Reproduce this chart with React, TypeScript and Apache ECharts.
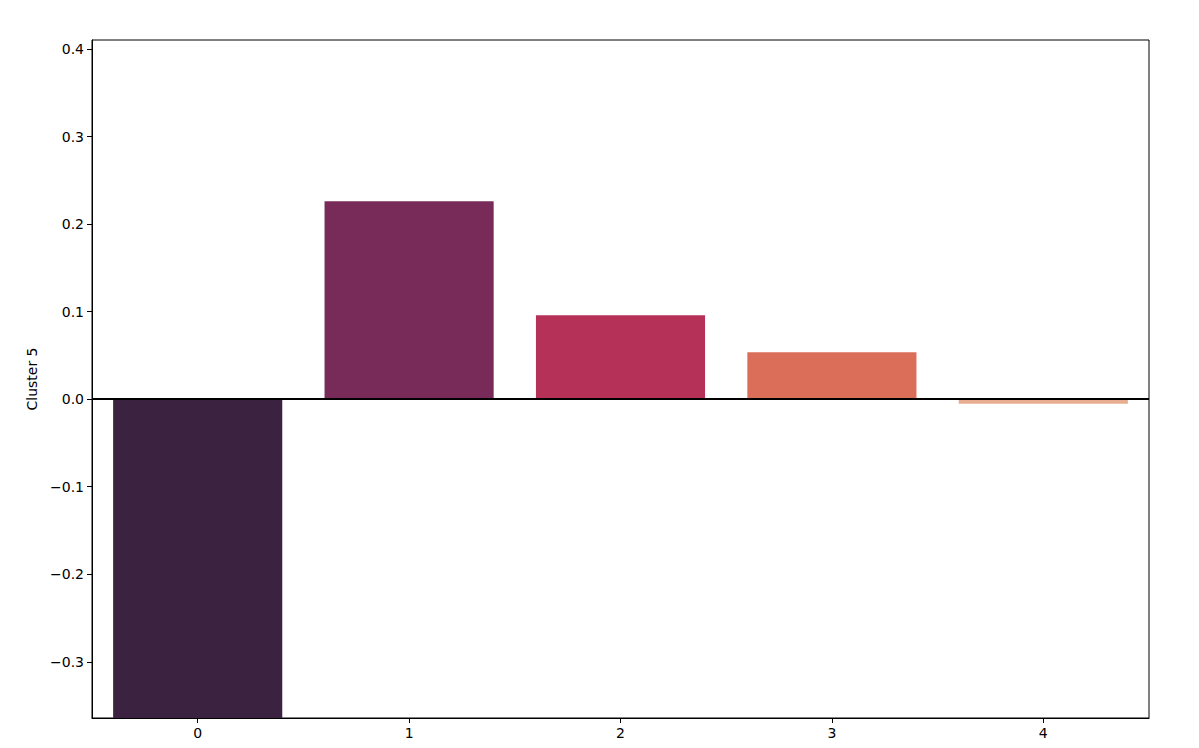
import React, { useEffect, useRef } from "react";
import * as echarts from "echarts";

const categories = ["0", "1", "2", "3", "4"];
const values = [-0.3642, 0.226, 0.096, 0.0537, -0.0052];
const barColors = ["#3b2240", "#782b59", "#b53158", "#db6e58", "#e8ad90"];
const yTicks = [-0.3, -0.2, -0.1, 0.0, 0.1, 0.2, 0.3, 0.4];
const yMin = -0.3642;
const yMax = 0.4103;
const yName = "Cluster 5";

export default function App() {
  const ref = useRef<HTMLDivElement>(null);
  useEffect(() => {
    if (!ref.current) return;
    const chart = echarts.init(ref.current, undefined, { renderer: "svg" });
    const font = "DejaVu Sans";
    chart.setOption({
      animation: false,
      backgroundColor: "#ffffff",
      grid: {
        left: 92,
        right: 50,
        top: 40,
        bottom: 30,
        show: true,
        borderColor: "#000000",
        borderWidth: 1,
        backgroundColor: "transparent",
      },
      xAxis: {
        type: "category",
        data: categories,
        boundaryGap: true,
        axisLine: { show: true, onZero: false, lineStyle: { color: "#000", width: 1 } },
        axisTick: { show: true, alignWithLabel: true, length: 5, lineStyle: { color: "#000" } },
        axisLabel: { color: "#000", fontSize: 14, fontFamily: font, margin: 8 },
        splitLine: { show: false },
      },
      yAxis: {
        type: "value",
        min: yMin,
        max: yMax,
        name: yName,
        nameLocation: "middle",
        nameGap: 48,
        nameTextStyle: { color: "#000", fontSize: 14, fontFamily: font },
        axisLine: { show: true, lineStyle: { color: "#000", width: 1 } },
        axisTick: { show: true, length: 5, customValues: yTicks, lineStyle: { color: "#000" } },
        axisLabel: {
          color: "#000",
          fontSize: 14,
          fontFamily: font,
          margin: 8,
          customValues: yTicks,
          formatter: (v: number) => v.toFixed(1).replace("-", "\u2212"),
        },
        splitLine: { show: false },
      },
      series: [
        {
          type: "bar",
          data: values.map((v, i) => ({ value: v, itemStyle: { color: barColors[i] } })),
          barCategoryGap: "20%",
          clip: true,
          markLine: {
            silent: true,
            symbol: "none",
            label: { show: false },
            lineStyle: { color: "#000", width: 2, type: "solid" },
            data: [{ yAxis: 0 }],
          },
        },
      ],
    });
    return () => chart.dispose();
  }, []);
  return (
    <div
      ref={ref}
      style={{ position: "fixed", left: 0, top: 0, width: 1199, height: 748, background: "#fff" }}
    />
  );
}
